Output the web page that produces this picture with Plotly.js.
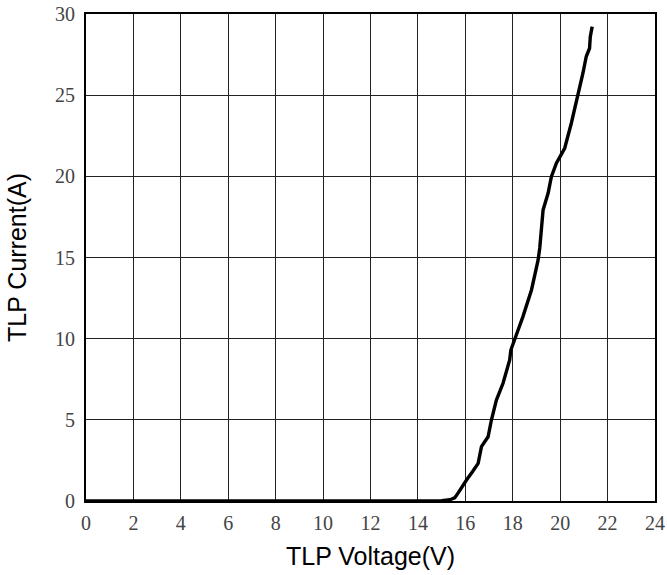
<!DOCTYPE html>
<html>
<head>
<meta charset="utf-8">
<script src="https://cdn.plot.ly/plotly-3.0.1.min.js"></script>
<style>html,body{margin:0;padding:0;background:#fff}#chart{width:667px;height:575px}</style>
</head>
<body>
<div id="chart"></div>
<script>
var voltage = [0, 2, 4, 6, 8, 10, 12, 14, 15.0, 15.35, 15.55, 15.63, 15.8, 16.05, 16.3, 16.54, 16.68, 16.96, 17.1, 17.31, 17.59, 17.87, 17.92, 18.08, 18.43, 18.79, 18.93, 19.07, 19.14, 19.28, 19.49, 19.63, 19.84, 20.19, 20.47, 20.75, 20.96, 21.10, 21.24, 21.27, 21.35];
var current = [0, 0, 0, 0, 0, 0, 0, 0, 0.02, 0.08, 0.2, 0.35, 0.75, 1.29, 1.8, 2.32, 3.35, 3.96, 4.99, 6.22, 7.25, 8.69, 9.30, 9.96, 11.36, 13.0, 13.82, 14.85, 15.6, 17.93, 18.96, 19.98, 20.81, 21.73, 23.27, 24.91, 26.35, 27.38, 27.89, 28.6, 29.22];
var xTicks = [0, 2, 4, 6, 8, 10, 12, 14, 16, 18, 20, 22, 24];
var yTicks = [0, 5, 10, 15, 20, 25, 30];

var trace = {
  x: voltage, y: current, type: 'scatter', mode: 'lines',
  line: {color: '#000', width: 3.4, shape: 'linear'},
  hoverinfo: 'none'
};
var tickFont = {family: '"Liberation Serif", "DejaVu Serif", serif', size: 20, color: '#444'};
var titleFont = {family: '"Liberation Sans", Arial, sans-serif', size: 25, color: '#000'};
var layout = {
  width: 667, height: 575,
  font: {family: '"Liberation Serif", "DejaVu Serif", serif', size: 20, color: '#444'},
  margin: {l: 85.5, r: 11.5, t: 14, b: 74, pad: 0},
  paper_bgcolor: '#fff', plot_bgcolor: '#fff',
  showlegend: false,
  xaxis: {
    range: [0, 24], tickmode: 'array', tickvals: xTicks, ticktext: xTicks.map(String),
    showgrid: true, gridcolor: '#222', gridwidth: 1, zeroline: false,
    showline: true, linecolor: '#000', linewidth: 2, mirror: true,
    ticks: '', tickfont: tickFont, ticklabelstandoff: 3,
    title: {text: 'TLP Voltage(V)', font: titleFont, standoff: 14}
  },
  yaxis: {
    range: [0, 30], tickmode: 'array', tickvals: yTicks, ticktext: yTicks.map(String),
    showgrid: true, gridcolor: '#222', gridwidth: 1, zeroline: false,
    showline: true, linecolor: '#000', linewidth: 2, mirror: true,
    ticks: '', tickfont: tickFont, ticklabelstandoff: 5,
    title: {text: 'TLP Current(A)', font: titleFont, standoff: 21}
  }
};
Plotly.newPlot('chart', [trace], layout, {displayModeBar: false, staticPlot: true});
</script>
</body>
</html>
